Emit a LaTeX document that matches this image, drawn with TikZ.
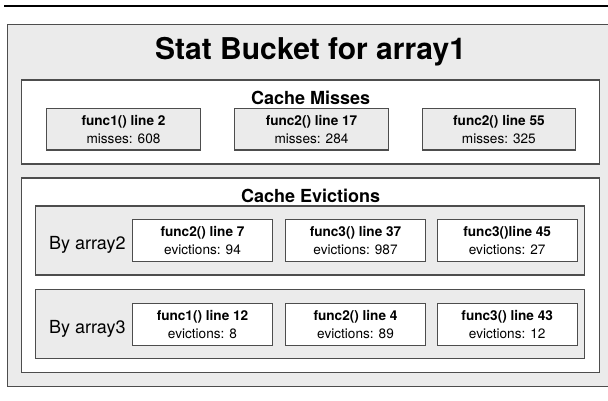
\documentclass[tikz,border=0pt]{standalone}
\usepackage{fontspec}
\setmainfont{TeX Gyre Heros}
\usepackage{tikz}
\definecolor{panelgray}{HTML}{EBEBEB}
\definecolor{edgegray}{HTML}{4D4D4D}

\begin{document}
\begin{tikzpicture}[
    x=1pt, y=-1pt,
    box/.style={rectangle, draw=edgegray, line width=1.1pt, inner sep=0pt},
    bucket/.style={box, fill=panelgray, minimum width=609pt, minimum height=362pt},
    section/.style={box, fill=white, minimum width=578pt},
    grp/.style={box, fill=panelgray, minimum width=549pt, minimum height=69pt},
    entry/.style={box, align=center, minimum height=41.7pt,
      font=\fontsize{13.6}{17.7}\selectfont,
      execute at begin node={\rule{0pt}{13.9pt}}},
    miss/.style={entry, fill=panelgray, minimum width=153.6pt},
    evict/.style={entry, fill=white, minimum width=139.7pt},
    heading/.style={anchor=base, font=\bfseries\fontsize{18}{21}\selectfont},
    grplabel/.style={anchor=base, font=\fontsize{18}{21}\selectfont}
  ]
  \useasboundingbox (0,0) rectangle (608,401);

  \draw[line width=2.7pt] (4,6) -- (612,6);

  \node[bucket] (bucket) at (312,205.5) {};
  \node[anchor=base, font=\bfseries\fontsize{30}{36}\selectfont] (title) at (310.5,59.3) {Stat Bucket for array1};

  % cache misses
  \node[section, minimum height=84pt] (misses) at (310.7,122) {};
  \node[heading] (missttl) at (310.7,105) {Cache Misses};
  \node[miss] (m1) at (123.5,129.2) {\textbf{func1() line 2}\\misses: 608};
  \node[miss] (m2) at (311.5,129.2) {\textbf{func2() line 17}\\misses: 284};
  \node[miss] (m3) at (498.9,129.2) {\textbf{func2() line 55}\\misses: 325};

  % cache evictions
  \node[section, minimum height=194.7pt] (evicts) at (310.7,275.4) {};
  \node[heading] (evictttl) at (310.7,202.7) {Cache Evictions};

  \node[grp] (g2) at (310.2,240.5) {};
  \node[grplabel] (g2lbl) at (87.3,249.3) {By array2};
  \node[evict] (a1) at (202.5,240.2) {\textbf{func2() line 7}\\evictions: 94};
  \node[evict] (a2) at (355.5,240.2) {\textbf{func3() line 37}\\evictions: 987};
  \node[evict] (a3) at (507.2,240.2) {\textbf{func3()line 45}\\evictions: 27};

  \node[grp] (g3) at (310.2,323.9) {};
  \node[grplabel] (g3lbl) at (87.3,333.5) {By array3};
  \node[evict] (b1) at (202.5,324.2) {\textbf{func1() line 12}\\evictions: 8};
  \node[evict] (b2) at (355.5,324.2) {\textbf{func2() line 4}\\evictions: 89};
  \node[evict] (b3) at (507.2,324.2) {\textbf{func3() line 43}\\evictions: 12};
\end{tikzpicture}
\end{document}
